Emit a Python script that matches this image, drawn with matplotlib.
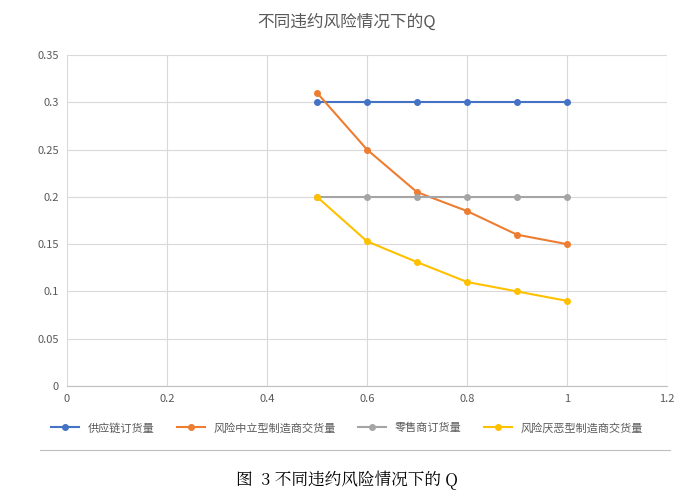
import matplotlib
matplotlib.use("Agg")
import matplotlib.pyplot as plt

x = [0.5, 0.6, 0.7, 0.8, 0.9, 1.0]
supply = [0.3, 0.3, 0.3, 0.3, 0.3, 0.3]
neutral = [0.31, 0.25, 0.205, 0.185, 0.16, 0.15]
retail = [0.2, 0.2, 0.2, 0.2, 0.2, 0.2]
averse = [0.2, 0.153, 0.131, 0.11, 0.1, 0.09]
names = ["供应链订货量", "风险中立型制造商交货量", "零售商订货量", "风险厌恶型制造商交货量"]
colors = ["#4472C4", "#ED7D31", "#A5A5A5", "#FFC000"]

plt.rcParams["font.family"] = ["Noto Sans CJK SC"]
fig = plt.figure(figsize=(6.94, 5.0), dpi=100)
ax = fig.add_axes([67/694, 1-386/500, 600/694, 331/500])
for s, n, c in zip([supply, neutral, retail, averse], names, colors):
    ax.plot(x, s, color=c, marker="o", markersize=4, linewidth=1.5, label=n)
ax.set_xlim(0, 1.2)
ax.set_ylim(0, 0.35)
ax.set_xticks([0, 0.2, 0.4, 0.6, 0.8, 1, 1.2])
ax.set_xticklabels(["0", "0.2", "0.4", "0.6", "0.8", "1", "1.2"])
ax.set_yticks([0, 0.05, 0.1, 0.15, 0.2, 0.25, 0.3, 0.35])
ax.set_yticklabels(["0", "0.05", "0.1", "0.15", "0.2", "0.25", "0.3", "0.35"])
ax.grid(True, color="#D9D9D9", linewidth=0.8)
for sp in ax.spines.values():
    sp.set_visible(False)
ax.spines["bottom"].set_visible(True)
ax.spines["bottom"].set_color("#BFBFBF")
ax.tick_params(length=0, labelsize=8, colors="#595959", pad=6)
fig.text(0.5, 1-22/500, "不同违约风险情况下的Q", ha="center", va="center", fontsize=12, color="#595959")
fig.legend(loc="center", bbox_to_anchor=(0.5, 1-428/500), ncol=4, frameon=False, fontsize=8,
           handlelength=2.5, columnspacing=2, labelcolor="#595959")
fig.add_artist(plt.Line2D([40/694, 670/694], [1-450/500]*2, color="#BFBFBF", linewidth=0.8))
fig.text(0.5, 1-480/500, "图  3 不同违约风险情况下的 Q", ha="center", va="center", fontsize=12,
         fontfamily=["Noto Serif CJK SC", "Noto Sans CJK SC"])
fig.savefig("out.png", dpi=100)
